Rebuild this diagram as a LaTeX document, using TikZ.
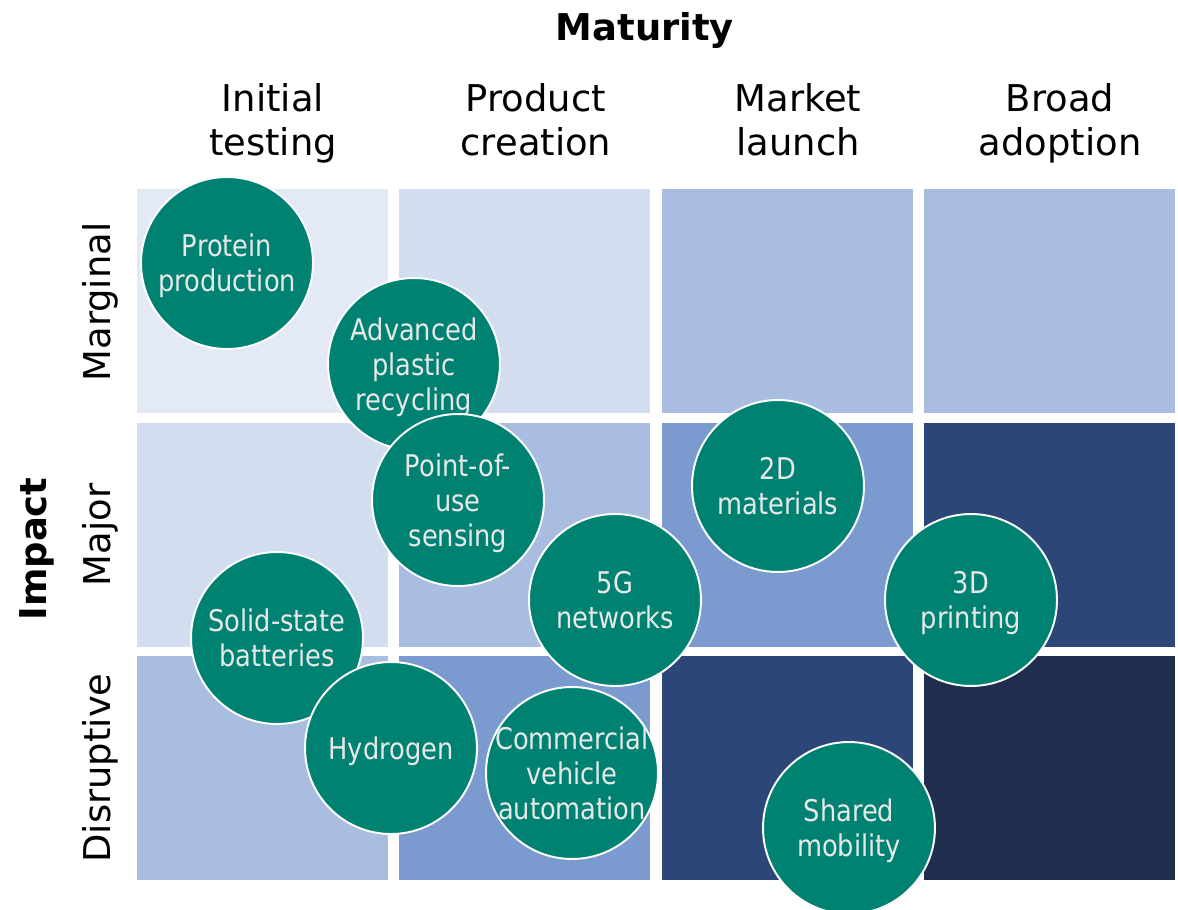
\documentclass[tikz,border=0pt]{standalone}
\usepackage{fontspec}
\setmainfont{DejaVu Sans}
\newfontfamily\techfont{DejaVu Sans}[FakeStretch=0.86]
\definecolor{cellA}{HTML}{E3EAF5}
\definecolor{cellB}{HTML}{D2DEEF}
\definecolor{cellC}{HTML}{A9BDE0}
\definecolor{cellD}{HTML}{7B9BD0}
\definecolor{cellE}{HTML}{2C4677}
\definecolor{cellF}{HTML}{1F2E4E}
\definecolor{techfill}{HTML}{008272}
\definecolor{techtext}{HTML}{E8E8E8}
\begin{document}
\begin{tikzpicture}[x=0.02cm,y=-0.02cm,
    techlabel/.style={align=center,text depth=0pt,text=techtext,
        font=\techfont\fontsize{17}{19.8}\selectfont},
    tech/.style={techlabel,circle,fill=techfill,draw=white,line width=1.1pt,
        minimum size=3.44cm,inner sep=0pt},
    colhead/.style={align=center,text depth=0.3em,font=\fontsize{21}{25}\selectfont},
    rowhead/.style={rotate=90,font=\fontsize{21}{25}\selectfont},
    axishead/.style={font=\bfseries\fontsize{21}{25}\selectfont}]
    \useasboundingbox[fill=white] (0,0) rectangle (1178,910);
    % grid of cells
    \foreach \c/\r/\col in {0/0/cellA,1/0/cellB,2/0/cellC,3/0/cellC,
                            0/1/cellB,1/1/cellC,2/1/cellD,3/1/cellE,
                            0/2/cellC,1/2/cellD,2/2/cellE,3/2/cellF}
        \fill[\col] ({137+262.3*\c},{189+233.5*\r}) rectangle +(251,224);
    % headers
    \node[axishead] (maturity) at (645,30) {Maturity};
    \node[colhead] (initial) at (273,122) {Initial\\testing};
    \node[colhead] (product) at (536,122) {Product\\creation};
    \node[colhead] (market) at (798,122) {Market\\launch};
    \node[colhead] (broad) at (1060,122) {Broad\\adoption};
    \node[axishead,rotate=90] (impact) at (37,549) {Impact};
    \node[rowhead] (marginal) at (100,302) {Marginal};
    \node[rowhead] (major) at (100,535) {Major};
    \node[rowhead] (disruptive) at (100,768) {Disruptive};
    % technologies
    \node[tech] (protein) at (227,263) {Protein\\production};
    \node[tech] (plastic) at (414,364) {Advanced\\plastic\\recycling};
    \node[tech] (sensing) at (458,500) {Point-of-\\use\\sensing};
    \node[tech] (twod) at (778,486) {2D\\materials};
    \node[tech] (batteries) at (277,638) {Solid-state\\batteries};
    \node[tech] (hydrogen) at (391,748) {Hydrogen};
    \node[tech] (vehicle) at (572,773) {};
    \node[techlabel] (vehicletext) at (vehicle) {Commercial\\vehicle\\automation};
    \node[tech] (fiveg) at (615,600) {5G\\networks};
    \node[tech] (threed) at (971,600) {3D\\printing};
    \node[tech] (mobility) at (849,828) {Shared\\mobility};
\end{tikzpicture}
\end{document}
